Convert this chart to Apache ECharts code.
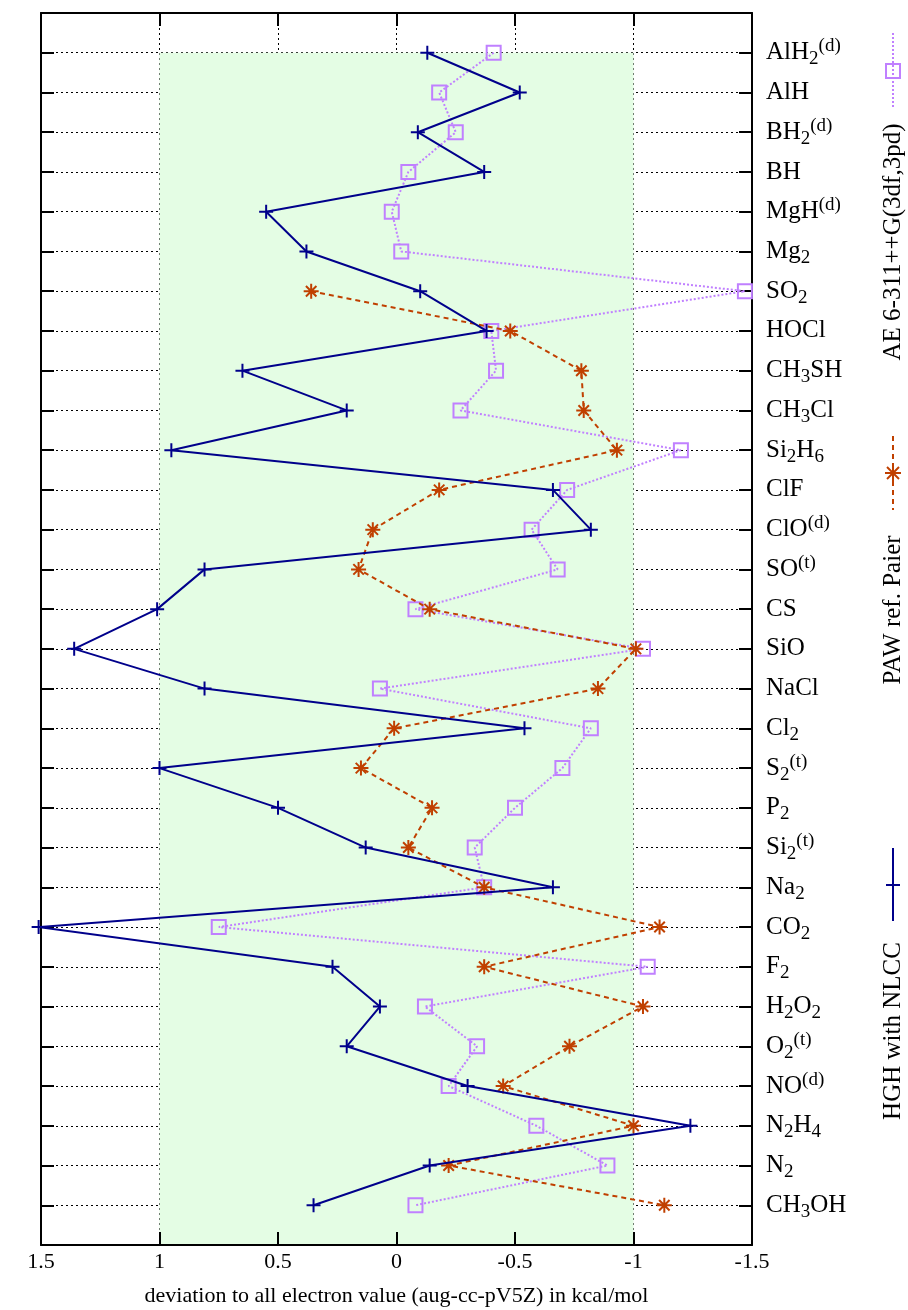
<!DOCTYPE html>
<html><head><meta charset="utf-8">
<script src="https://cdn.jsdelivr.net/npm/echarts@6/dist/echarts.min.js"></script>
<style>html,body{margin:0;padding:0;background:#fff}#c{width:908px;height:1310px}</style>
</head><body><div id="c"></div>
<script>
// category labels (gnuplot-like markup: _{sub} ^{sup})
const categories = [
  'AlH_{2}^{(d)}','AlH','BH_{2}^{(d)}','BH','MgH^{(d)}','Mg_{2}','SO_{2}','HOCl',
  'CH_{3}SH','CH_{3}Cl','Si_{2}H_{6}','ClF','ClO^{(d)}','SO^{(t)}','CS','SiO','NaCl',
  'Cl_{2}','S_{2}^{(t)}','P_{2}','Si_{2}^{(t)}','Na_{2}','CO_{2}','F_{2}','H_{2}O_{2}',
  'O_{2}^{(t)}','NO^{(d)}','N_{2}H_{4}','N_{2}','CH_{3}OH'
];
// HGH with NLCC
const hghValues = [-0.13,-0.52,-0.09,-0.37,0.55,0.38,-0.10,-0.38,0.65,0.21,0.95,-0.66,-0.82,0.81,1.01,
  1.36,0.81,-0.54,1.00,0.50,0.13,-0.66,1.51,0.27,0.07,0.21,-0.30,-1.24,-0.14,0.35];
// PAW ref. Paier
const pawValues = [null,null,null,null,null,null,0.36,-0.48,-0.78,-0.79,-0.93,-0.18,0.10,0.16,-0.14,
  -1.01,-0.85,0.01,0.15,-0.15,-0.05,-0.37,-1.11,-0.37,-1.04,-0.73,-0.45,-1.00,-0.22,-1.13];
// AE 6-311++G(3df,3pd)
const aeValues = [-0.41,-0.18,-0.25,-0.05,0.02,-0.02,-1.47,-0.40,-0.42,-0.27,-1.20,-0.72,-0.57,-0.68,-0.08,
  -1.04,0.07,-0.82,-0.70,-0.50,-0.33,-0.37,0.75,-1.06,-0.12,-0.34,-0.22,-0.59,-0.89,-0.08];
const seriesNames = ['AE 6-311++G(3df,3pd)','PAW ref. Paier','HGH with NLCC'];
const xMin = -1.5, xMax = 1.5, xStep = 0.5;
const bandRange = [1, -1];

const FONT = "'Liberation Serif','Times New Roman',serif";
const BLUE = '#00008b', ORANGE = '#c04000', PURPLE = '#c080ff', GREEN = '#e4fde4';

function toRich(s){
  return s.replace(/_\{([^}]*)\}/g,'{s|$1}').replace(/\^\{([^}]*)\}/g,'{p|$1}');
}
function pts(vals){
  const out=[];
  vals.forEach((v,i)=>{ if(v!==null) out.push([v,i+1]); });
  return out;
}
const nCat = categories.length;
const chart = echarts.init(document.getElementById('c'));
const gridLine = {show:true, lineStyle:{color:'#000', width:1, type:[2,3]}, showMinLine:false, showMaxLine:false};
const axisLine = {show:true, onZero:false, lineStyle:{color:'#000', width:2}};
const tick = {show:true, inside:true, length:13, lineStyle:{color:'#000', width:2}};

function legendGraphics(){
  const g=[]; const x=893;
  const ts = (t)=>({text:t, font:'25px '+FONT, fontSize:25, fontFamily:FONT, align:'center', verticalAlign:'middle', textAlign:'center', textVerticalAlign:'middle', fill:'#000'});
  // AE
  g.push({type:'line', shape:{x1:x,y1:33,x2:x,y2:108}, style:{stroke:PURPLE,lineWidth:2,lineDash:[2,2]}});
  g.push({type:'rect', shape:{x:x-7,y:64,width:14,height:14}, style:{fill:'none',stroke:PURPLE,lineWidth:2}});
  g.push({type:'text', x:x, y:242, rotation:Math.PI/2, style:ts(seriesNames[0])});
  // PAW
  g.push({type:'line', shape:{x1:x,y1:436,x2:x,y2:510}, style:{stroke:ORANGE,lineWidth:2,lineDash:[5,4]}});
  const a=473, r=8, d=6;
  g.push({type:'line', shape:{x1:x,y1:a-r,x2:x,y2:a+r}, style:{stroke:ORANGE,lineWidth:2}});
  g.push({type:'line', shape:{x1:x-r,y1:a,x2:x+r,y2:a}, style:{stroke:ORANGE,lineWidth:2}});
  g.push({type:'line', shape:{x1:x-d,y1:a-d,x2:x+d,y2:a+d}, style:{stroke:ORANGE,lineWidth:2}});
  g.push({type:'line', shape:{x1:x-d,y1:a+d,x2:x+d,y2:a-d}, style:{stroke:ORANGE,lineWidth:2}});
  g.push({type:'text', x:x, y:610, rotation:Math.PI/2, style:ts(seriesNames[1])});
  // HGH
  g.push({type:'line', shape:{x1:x,y1:848,x2:x,y2:921}, style:{stroke:BLUE,lineWidth:2}});
  g.push({type:'line', shape:{x1:x-7,y1:885,x2:x+7,y2:885}, style:{stroke:BLUE,lineWidth:2}});
  g.push({type:'text', x:x, y:1031, rotation:Math.PI/2, style:ts(seriesNames[2])});
  return g;
}

const option = {
  backgroundColor:'#fff',
  animation:false,
  grid:{left:41, right:156, top:13, bottom:65, containLabel:false, outerBoundsMode:'none'},
  xAxis:[
    {type:'value', min:xMin, max:xMax, interval:xStep, inverse:true, position:'bottom', z:1,
     axisLine:axisLine, axisTick:tick, splitLine:gridLine,
     axisLabel:{fontFamily:FONT, fontSize:22, color:'#000', margin:6},
     name:'deviation to all electron value (aug-cc-pV5Z) in kcal/mol', nameLocation:'middle', nameGap:40,
     nameTextStyle:{fontFamily:FONT, fontSize:22, color:'#000'}},
    {type:'value', min:xMin, max:xMax, interval:xStep, inverse:true, position:'top', z:1,
     axisLine:axisLine, axisTick:tick, splitLine:{show:false}, axisLabel:{show:false}}
  ],
  yAxis:[
    {type:'value', min:0, max:nCat+1, interval:1, inverse:true, position:'right', z:1,
     axisLine:axisLine, axisTick:tick, splitLine:gridLine,
     axisLabel:{fontFamily:FONT, fontSize:25, color:'#000', margin:14, align:'left', lineHeight:32,
       formatter:function(v){ if(v<1||v>nCat) return ''; return toRich(categories[v-1]); },
       rich:{
         s:{fontFamily:FONT, fontSize:19, color:'#000', lineHeight:14, verticalAlign:'bottom'},
         p:{fontFamily:FONT, fontSize:19, color:'#000', lineHeight:14, verticalAlign:'top'}
       }}},
    {type:'value', min:0, max:nCat+1, interval:1, inverse:true, position:'left', z:1,
     axisLine:axisLine, axisTick:tick, splitLine:{show:false}, axisLabel:{show:false}}
  ],
  graphic: legendGraphics(),
  series:[
    {type:'line', name:'band', z:0, silent:true, data:[[0,1]], showSymbol:false, symbol:'none',
     lineStyle:{opacity:0},
     markArea:{silent:true, itemStyle:{color:GREEN}, data:[[{xAxis:bandRange[0], yAxis:1},{xAxis:bandRange[1], yAxis:nCat+1}]]}},
    {type:'line', name:seriesNames[0], data:pts(aeValues), z:2,
     symbol:'path://M-1,-1L1,-1L1,1L-1,1Z', symbolSize:14,
     itemStyle:{color:'none', borderColor:PURPLE, borderWidth:2},
     lineStyle:{color:PURPLE, width:2, type:[2,2]}},
    {type:'line', name:seriesNames[1], data:pts(pawValues), z:3,
     symbol:'path://M0,-1L0,1M-1,0L1,0M-0.7,-0.7L0.7,0.7M-0.7,0.7L0.7,-0.7', symbolSize:15,
     itemStyle:{color:'none', borderColor:ORANGE, borderWidth:2},
     lineStyle:{color:ORANGE, width:2, type:[5,4]}},
    {type:'line', name:seriesNames[2], data:pts(hghValues), z:4, clip:false,
     symbol:'path://M0,-1L0,1M-1,0L1,0', symbolSize:14,
     itemStyle:{color:'none', borderColor:BLUE, borderWidth:2},
     lineStyle:{color:BLUE, width:2}}
  ]
};
chart.setOption(option);
</script>
</body></html>
